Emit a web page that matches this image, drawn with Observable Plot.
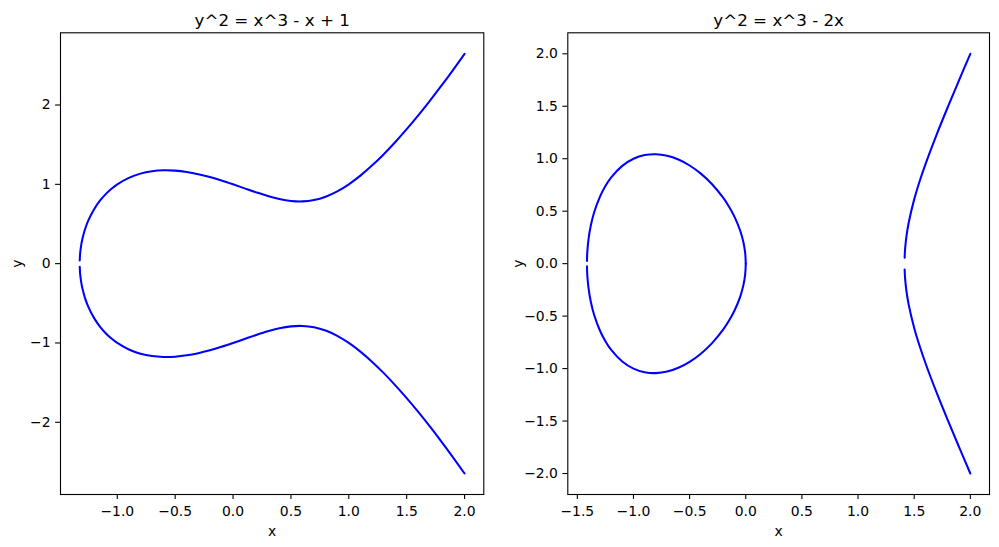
<!DOCTYPE html>
<html>
<head>
<meta charset="utf-8">
<script src="https://cdn.jsdelivr.net/npm/d3@7"></script>
<script src="https://cdn.jsdelivr.net/npm/@observablehq/plot@0.6"></script>
<style>
  html, body { margin: 0; padding: 0; background: #fff; }
  #wrap { position: relative; width: 999px; height: 547px; background: #fff; overflow: hidden; }
  #wrap > .panel { position: absolute; top: 0; }
</style>
</head>
<body>
<div id="wrap"><div class="panel" id="left"></div><div class="panel" id="right"></div></div>
<script>
// ---- Left panel: y^2 = x^3 - x + 1 ----
const leftTitle = "y^2 = x^3 - x + 1";
const leftX = [-1.3243, -1.322, -1.32, -1.31, -1.3, -1.28, -1.25, -1.2, -1.15, -1.1, -1.05, -1.0, -0.9, -0.8, -0.7, -0.6, -0.5, -0.4, -0.3, -0.2, -0.1, 0.0, 0.1, 0.2, 0.3, 0.4, 0.5, 0.6, 0.7, 0.8, 0.9, 1.0, 1.1, 1.2, 1.3, 1.4, 1.5, 1.6, 1.7, 1.8, 1.9, 2.0];
const leftUpper = [0.04, 0.1075, 0.1415, 0.2488, 0.3209, 0.4276, 0.5449, 0.6870, 0.7932, 0.8769, 0.9447, 1.0, 1.0821, 1.1349, 1.1649, 1.1765, 1.1726, 1.1559, 1.1283, 1.0918, 1.0483, 1.0, 0.9492, 0.8989, 0.8526, 0.8149, 0.7906, 0.7849, 0.8019, 0.8438, 0.9105, 1.0, 1.1095, 1.2361, 1.3773, 1.5310, 1.6956, 1.8698, 2.0526, 2.2432, 2.4411, 2.6458];
const leftLower = [-0.04, -0.1075, -0.1415, -0.2488, -0.3209, -0.4276, -0.5449, -0.6870, -0.7932, -0.8769, -0.9447, -1.0, -1.0821, -1.1349, -1.1649, -1.1765, -1.1726, -1.1559, -1.1283, -1.0918, -1.0483, -1.0, -0.9492, -0.8989, -0.8526, -0.8149, -0.7906, -0.7849, -0.8019, -0.8438, -0.9105, -1.0, -1.1095, -1.2361, -1.3773, -1.5310, -1.6956, -1.8698, -2.0526, -2.2432, -2.4411, -2.6458];
const leftXTicks = [-1.0, -0.5, 0.0, 0.5, 1.0, 1.5, 2.0];
const leftYTicks = [-2, -1, 0, 1, 2];

// ---- Right panel: y^2 = x^3 - 2x ----
const rightTitle = "y^2 = x^3 - 2x";
const loopX = [-1.414, -1.413, -1.41, -1.4, -1.38, -1.35, -1.3, -1.25, -1.2, -1.1, -1.0, -0.9, -0.8, -0.7, -0.6, -0.5, -0.4, -0.3, -0.2, -0.15, -0.1, -0.05, -0.02, -0.005, 0.0];
const loopUpper = [0.025, 0.0696, 0.1295, 0.2366, 0.3632, 0.4895, 0.6348, 0.7395, 0.8198, 0.9322, 1.0, 1.0349, 1.0431, 1.0281, 0.9920, 0.9354, 0.8579, 0.7570, 0.6261, 0.5446, 0.4461, 0.3160, 0.2000, 0.1000, 0.0];
const loopLower = [-0.025, -0.0696, -0.1295, -0.2366, -0.3632, -0.4895, -0.6348, -0.7395, -0.8198, -0.9322, -1.0, -1.0349, -1.0431, -1.0281, -0.9920, -0.9354, -0.8579, -0.7570, -0.6261, -0.5446, -0.4461, -0.3160, -0.2000, -0.1000, 0.0];
const branchX = [1.415, 1.417, 1.42, 1.43, 1.45, 1.5, 1.55, 1.6, 1.7, 1.8, 1.9, 2.0];
const branchUpper = [0.056, 0.1057, 0.1526, 0.2534, 0.3855, 0.6124, 0.7899, 0.9466, 1.2300, 1.4940, 1.7490, 2.0];
const branchLower = [-0.056, -0.1057, -0.1526, -0.2534, -0.3855, -0.6124, -0.7899, -0.9466, -1.2300, -1.4940, -1.7490, -2.0];
const rightXTicks = [-1.5, -1.0, -0.5, 0.0, 0.5, 1.0, 1.5, 2.0];
const rightYTicks = [-2.0, -1.5, -1.0, -0.5, 0.0, 0.5, 1.0, 1.5, 2.0];

function rows(xs, ys, g) { return xs.map((x, i) => ({x, y: ys[i], g})); }

const leftData = [...rows(leftX, leftUpper, "u"), ...rows(leftX, leftLower, "l")];
const rightData = [
  ...rows(loopX, loopUpper, "lu"), ...rows(loopX, loopLower, "ll"),
  ...rows(branchX, branchUpper, "bu"), ...rows(branchX, branchLower, "bl")
];

const FONT = "DejaVu Sans";
function panel({data, title, xDomain, yDomain, xTicks, yTicks, xFmt, yFmt, width, marginLeft, marginRight, yLabelOffset}) {
  return Plot.plot({
    width, height: 547,
    marginLeft, marginRight, marginTop: 32.3, marginBottom: 53,
    style: {fontFamily: FONT, fontSize: "13.9px", color: "black", background: "white", overflow: "visible"},
    x: {domain: xDomain},
    y: {domain: yDomain},
    marks: [
      Plot.line(data, {x: "x", y: "y", z: "g", stroke: "#0000ff", strokeWidth: 2.05, curve: "catmull-rom"}),
      Plot.frame({stroke: "black", strokeWidth: 1.1}),
      Plot.axisX({ticks: xTicks, tickFormat: xFmt, tickSize: 4.9, tickPadding: 7, strokeWidth: 1.1,
                  label: "x", labelAnchor: "center", labelArrow: "none", labelOffset: 41}),
      Plot.axisY({ticks: yTicks, tickFormat: yFmt, tickSize: 4.9, tickPadding: 5, strokeWidth: 1.1,
                  label: "y", labelAnchor: "center", labelArrow: "none", labelOffset: yLabelOffset}),
      Plot.text([title], {frameAnchor: "top", lineAnchor: "bottom", dy: -7, fontSize: 16.7, text: d => d})
    ]
  });
}

const left = panel({
  data: leftData, title: leftTitle,
  xDomain: [-1.4905, 2.1662], yDomain: [-2.9104, 2.9104],
  xTicks: leftXTicks, yTicks: leftYTicks, xFmt: d3.format(".1f"), yFmt: d3.format("d"),
  width: 500, marginLeft: 60, marginRight: 16.7, yLabelOffset: 48
});
document.getElementById("left").appendChild(left);

const right = panel({
  data: rightData, title: rightTitle,
  xDomain: [-1.5849, 2.1707], yDomain: [-2.2, 2.2],
  xTicks: rightXTicks, yTicks: rightYTicks, xFmt: d3.format(".1f"), yFmt: d3.format(".1f"),
  width: 499, marginLeft: 67.3, marginRight: 10, yLabelOffset: 55
});
const r = document.getElementById("right");
r.style.left = "500px";
r.appendChild(right);
</script>
</body>
</html>
